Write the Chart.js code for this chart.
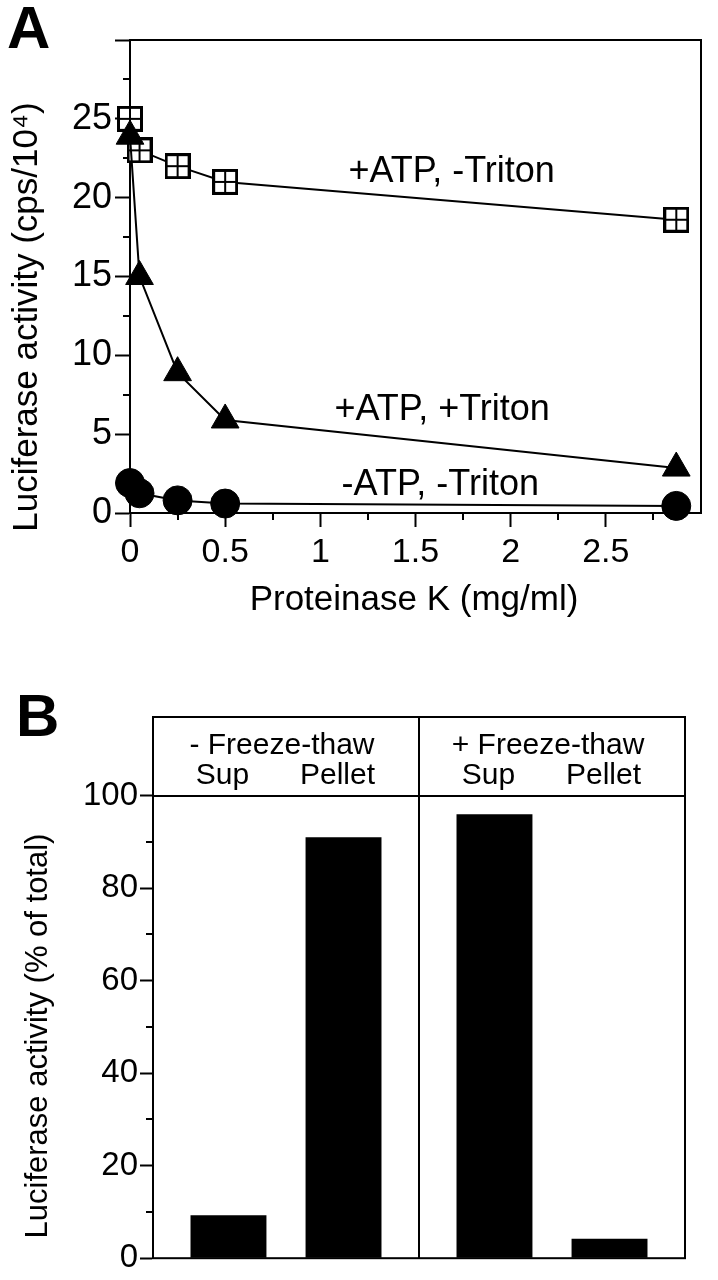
<!DOCTYPE html>
<html>
<head>
<meta charset="utf-8">
<script src="https://cdn.jsdelivr.net/npm/chart.js@4/dist/chart.umd.min.js"></script>
<style>
  html, body { margin: 0; padding: 0; background: #fff; }
  body { width: 718px; height: 1280px; position: relative; overflow: hidden; }
  canvas { position: absolute; left: 0; }
  #chartA { top: 0; }
  #chartB { top: 640px; }
</style>
</head>
<body>
<canvas id="chartA" width="718" height="640"></canvas>
<canvas id="chartB" width="718" height="640"></canvas>
<script>
// ---- panel A: luciferase activity vs proteinase K ----
const pkConc = [0, 0.05, 0.25, 0.5, 2.87];
const atpNoTriton = [25, 23, 22, 21, 18.6];
const atpTriton = [23.9, 15, 8.9, 5.9, 2.85];
const noAtpNoTriton = [1.9, 1.25, 0.8, 0.6, 0.45];
const seriesNames = ['+ATP, -Triton', '+ATP, +Triton', '-ATP, -Triton'];
const xMinorA = [0.25, 0.75, 1.25, 1.75, 2.25, 2.75];
const yMinorA = [2.5, 7.5, 12.5, 17.5, 22.5, 27.5];

// ---- panel B: distribution after freeze-thaw ----
const conditions = ['- Freeze-thaw', '+ Freeze-thaw'];
const fractions = ['Sup', 'Pellet'];
const supValues = [9.3, 96];
const pelletValues = [91, 4.2];
const yMinorB = [10, 30, 50, 70, 90];

const FONT = '"Liberation Sans", Arial, Helvetica, sans-serif';
Chart.defaults.font.family = FONT;
Chart.defaults.color = '#000';

// open square with a cross through it
function boxCross(size) {
    const c = document.createElement('canvas');
    c.width = c.height = size;
    const g = c.getContext('2d');
    g.fillStyle = '#fff';
    g.fillRect(0, 0, size, size);
    g.fillStyle = '#000';
    // border and cross as filled bars so they stay crisp
    g.fillRect(0, 0, size, 3);
    g.fillRect(0, size - 3, size, 3);
    g.fillRect(0, 0, 3, size);
    g.fillRect(size - 3, 0, 3, size);
    const m = Math.floor(size / 2) - 1;
    g.fillRect(m, 0, 2, size);
    g.fillRect(0, m, size, 2);
    return c;
}

function drawMinor(chart, scaleId, values, len) {
    const s = chart.scales[scaleId], ctx = chart.ctx, a = chart.chartArea;
    ctx.save();
    ctx.strokeStyle = '#000';
    ctx.lineWidth = 2;
    ctx.beginPath();
    values.forEach(v => {
        const p = Math.round(s.getPixelForValue(v));
        if (s.isHorizontal()) { ctx.moveTo(p, a.bottom); ctx.lineTo(p, a.bottom + len); }
        else { ctx.moveTo(a.left, p); ctx.lineTo(a.left - len, p); }
    });
    ctx.stroke();
    ctx.restore();
}

function drawFrame(chart) {
    const ctx = chart.ctx, a = chart.chartArea;
    ctx.save();
    ctx.strokeStyle = '#000';
    ctx.lineWidth = 2;
    ctx.strokeRect(a.left, a.top, a.right - a.left, a.bottom - a.top);
    ctx.restore();
}

function text(ctx, str, x, y, font, rotate) {
    ctx.save();
    ctx.font = font;
    ctx.fillStyle = '#000';
    ctx.textAlign = 'center';
    ctx.textBaseline = 'middle';
    ctx.translate(x, y);
    if (rotate) ctx.rotate(-Math.PI / 2);
    ctx.fillText(str, 0, 0);
    ctx.restore();
}

const toPoints = ys => ys.map((y, i) => ({ x: pkConc[i], y: y }));
const labelSpots = [[1.69, 21.6], [1.64, 6.5], [1.63, 1.8]];

const panelA = {
    id: 'panelA',
    beforeDatasetsDraw(chart) {
        drawFrame(chart);
        drawMinor(chart, 'x', xMinorA, 7);
        drawMinor(chart, 'y', yMinorA, 7);
    },
    afterDraw(chart) {
        const ctx = chart.ctx, sx = chart.scales.x, sy = chart.scales.y;
        seriesNames.forEach((n, i) => {
            text(ctx, n, sx.getPixelForValue(labelSpots[i][0]), sy.getPixelForValue(labelSpots[i][1]), '36px ' + FONT);
        });
        text(ctx, 'Luciferase activity (cps/10\u2074)', 27, 317, '35px ' + FONT, true);
        text(ctx, 'Proteinase K (mg/ml)', 414, 600, '35px ' + FONT);
        ctx.save();
        ctx.font = 'bold 60px ' + FONT;
        ctx.fillStyle = '#000';
        ctx.textBaseline = 'alphabetic';
        ctx.fillText('A', 7, 48);
        ctx.restore();
    }
};

new Chart(document.getElementById('chartA'), {
    type: 'line',
    data: {
        datasets: [
            { label: seriesNames[1], data: toPoints(atpTriton), pointStyle: 'triangle', pointRadius: 16,
              backgroundColor: '#000', pointBackgroundColor: '#000' },
            { label: seriesNames[0], data: toPoints(atpNoTriton), pointStyle: boxCross(26), pointRadius: 13 },
            { label: seriesNames[2], data: toPoints(noAtpNoTriton), pointStyle: 'circle', pointRadius: 14.5,
              backgroundColor: '#000', pointBackgroundColor: '#000' }
        ].map(d => Object.assign({ borderColor: '#000', borderWidth: 2, pointBorderColor: '#000',
                                   pointBorderWidth: 1, tension: 0, clip: false }, d))
    },
    options: {
        responsive: false,
        animation: false,
        devicePixelRatio: 1,
        layout: { padding: { left: 0, top: 40, right: 8, bottom: 0 } },
        plugins: { legend: { display: false }, tooltip: { enabled: false } },
        scales: {
            x: {
                type: 'linear', min: 0, max: 3,
                afterFit: s => { s.height = 127; },
                grid: { drawOnChartArea: false, tickLength: 14, tickWidth: 2,
                        tickColor: c => (c.tick && c.tick.value === 3) ? 'rgba(0,0,0,0)' : '#000' },
                border: { color: '#000', width: 2 },
                ticks: { stepSize: 0.5, padding: 5, maxRotation: 0, autoSkip: false, color: '#000',
                         font: { size: 34 }, callback: v => v === 3 ? '' : String(v) }
            },
            y: {
                min: 0, max: 30,
                afterFit: s => { s.width = 130; },
                grid: { drawOnChartArea: false, tickLength: 15, tickWidth: 2, tickColor: '#000' },
                border: { color: '#000', width: 2 },
                ticks: { stepSize: 5, padding: 3, color: '#000', font: { size: 36 },
                         callback: v => v === 30 ? '' : String(v) }
            }
        }
    },
    plugins: [panelA]
});

const panelB = {
    id: 'panelB',
    beforeDatasetsDraw(chart) {
        drawFrame(chart);
        drawMinor(chart, 'y', yMinorB, 7);
        const ctx = chart.ctx, a = chart.chartArea, sx = chart.scales.x, sy = chart.scales.y;
        const mid = Math.round((sx.getPixelForValue(0) + sx.getPixelForValue(1)) / 2);
        const y100 = Math.round(sy.getPixelForValue(100));
        ctx.save();
        ctx.strokeStyle = '#000';
        ctx.lineWidth = 2;
        ctx.beginPath();
        ctx.moveTo(mid, a.top); ctx.lineTo(mid, a.bottom);
        ctx.moveTo(a.left, y100); ctx.lineTo(a.right, y100);
        ctx.stroke();
        ctx.restore();
    },
    afterDraw(chart) {
        const ctx = chart.ctx, sx = chart.scales.x, sy = chart.scales.y;
        const f = '30px ' + FONT;
        conditions.forEach((c, i) => {
            text(ctx, c, sx.getPixelForValue(i) - 4, sy.getPixelForValue(110.8), f);
            fractions.forEach((fr, j) => {
                const bar = chart.getDatasetMeta(j).data[i];
                text(ctx, fr, bar.x - 6, sy.getPixelForValue(104.3), f);
            });
        });
        text(ctx, 'Luciferase activity (% of total)', 38, 396, '31px ' + FONT, true);
        ctx.save();
        ctx.font = 'bold 60px ' + FONT;
        ctx.fillStyle = '#000';
        ctx.textBaseline = 'alphabetic';
        ctx.fillText('B', 16, 96);
        ctx.restore();
    }
};

new Chart(document.getElementById('chartB'), {
    type: 'bar',
    data: {
        labels: conditions,
        datasets: [
            { label: fractions[0], data: supValues },
            { label: fractions[1], data: pelletValues }
        ].map(d => Object.assign({ backgroundColor: '#000', borderWidth: 0,
                                   categoryPercentage: 0.865, barPercentage: 0.66 }, d))
    },
    options: {
        responsive: false,
        animation: false,
        devicePixelRatio: 1,
        layout: { padding: { left: 0, top: 77, right: 33, bottom: 12 } },
        plugins: { legend: { display: false }, tooltip: { enabled: false } },
        scales: {
            x: { display: false },
            y: {
                min: 0, max: 117,
                afterFit: s => { s.width = 153; },
                grid: { drawOnChartArea: false, tickLength: 13, tickWidth: 2, tickColor: '#000' },
                border: { color: '#000', width: 2 },
                ticks: { stepSize: 20, includeBounds: false, padding: 2, color: '#000', font: { size: 33 } }
            }
        }
    },
    plugins: [panelB]
});
</script>
</body>
</html>
